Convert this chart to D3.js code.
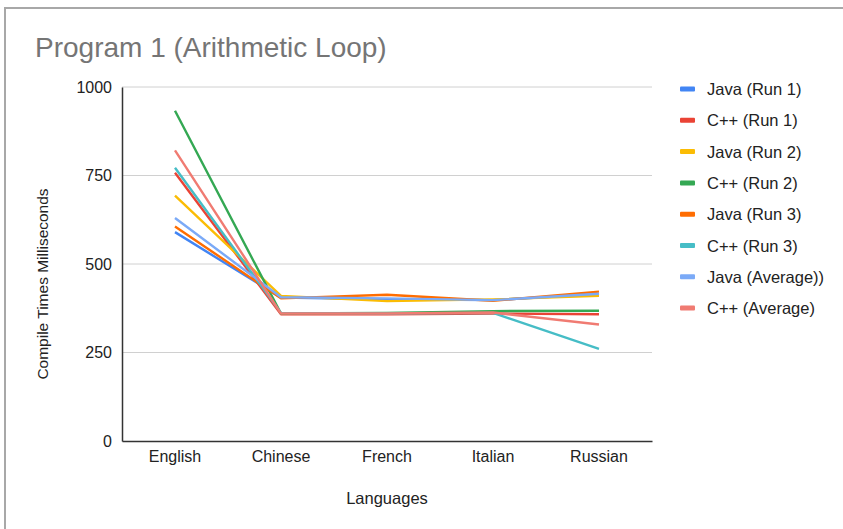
<!DOCTYPE html>
<html>
<head>
<meta charset="utf-8">
<script src="https://cdn.jsdelivr.net/npm/d3@7"></script>
<style>
  html, body { margin: 0; padding: 0; background: #fff; }
  svg { display: block; font-family: "Liberation Sans", Arial, sans-serif; }
</style>
</head>
<body>
<svg id="chart" width="843" height="529"></svg>
<script>
const categories = ["English", "Chinese", "French", "Italian", "Russian"];
const seriesNames = ["Java (Run 1)", "C++ (Run 1)", "Java (Run 2)", "C++ (Run 2)", "Java (Run 3)", "C++ (Run 3)", "Java (Average))", "C++ (Average)"];
const javaRun1 = [590, 405, 400, 398, 415];
const cppRun1  = [758, 358, 358, 360, 358];
const javaRun2 = [693, 410, 395, 400, 410];
const cppRun2  = [933, 360, 362, 367, 368];
const javaRun3 = [606, 403, 413, 396, 422];
const cppRun3  = [772, 362, 360, 362, 260];
const javaAvg  = [630, 406, 403, 398, 416];
const cppAvg   = [821, 360, 360, 363, 329];
const seriesValues = [javaRun1, cppRun1, javaRun2, cppRun2, javaRun3, cppRun3, javaAvg, cppAvg];
const colors = ["#4285F4", "#EA4335", "#FBBC04", "#34A853", "#FF6D01", "#46BDC6", "#7BAAF7", "#F07B72"];
const yTicks = [0, 250, 500, 750, 1000];

const svg = d3.select("#chart");

// outer frame
svg.append("rect").attr("x", 5).attr("y", 8).attr("width", 900).attr("height", 600)
  .attr("fill", "none").attr("stroke", "#a8a8a8").attr("stroke-width", 2);

const pLeft = 122, pRight = 652, pTop = 87, pBottom = 441;

const x = d3.scaleBand().domain(categories).range([pLeft, pRight]);
const y = d3.scaleLinear().domain([0, 1000]).range([pBottom, pTop]);

// title
svg.append("text").attr("x", 35).attr("y", 57)
  .attr("font-size", 28).attr("fill", "#757575").text("Program 1 (Arithmetic Loop)");

// gridlines
svg.append("g").selectAll("line").data(yTicks.filter(d => d > 0)).join("line")
  .attr("x1", pLeft).attr("x2", pRight)
  .attr("y1", d => y(d)).attr("y2", d => y(d))
  .attr("stroke", "#d0d0d0").attr("stroke-width", 1);

// y axis
const yAxis = svg.append("g").attr("transform", `translate(${pLeft},0)`)
  .call(d3.axisLeft(y).tickValues(yTicks).tickFormat(d3.format("d")).tickSize(0).tickPadding(10));
yAxis.select(".domain").attr("stroke", "#333").attr("stroke-width", 1.5);
yAxis.selectAll("text").attr("font-size", 16).attr("fill", "#222")
  .attr("font-family", "Liberation Sans, Arial, sans-serif");

// x axis
const xAxis = svg.append("g").attr("transform", `translate(0,${pBottom})`)
  .call(d3.axisBottom(x).tickSize(0).tickPadding(10));
xAxis.select(".domain").attr("stroke", "#333").attr("stroke-width", 1.5);
xAxis.selectAll("text").attr("font-size", 16).attr("fill", "#222")
  .attr("font-family", "Liberation Sans, Arial, sans-serif");

// axis titles
svg.append("text").attr("x", (pLeft + pRight) / 2).attr("y", 504)
  .attr("text-anchor", "middle").attr("font-size", 16.5).attr("fill", "#222").text("Languages");
svg.append("text").attr("transform", `translate(48,${(pTop + pBottom) / 2 + 20}) rotate(-90)`)
  .attr("text-anchor", "middle").attr("font-size", 15.5).attr("fill", "#222").text("Compile Times Milliseconds");

// lines
const line = d3.line().x((d, i) => x(categories[i]) + x.bandwidth() / 2).y(d => y(d));
svg.append("g").selectAll("path").data(seriesValues).join("path")
  .attr("d", d => line(d))
  .attr("fill", "none")
  .attr("stroke", (d, i) => colors[i])
  .attr("stroke-width", 2.4)
  .attr("stroke-linejoin", "round");

// legend
const legend = svg.append("g").selectAll("g").data(seriesNames).join("g")
  .attr("transform", (d, i) => `translate(680,${89 + i * 31.3})`);
legend.append("rect").attr("x", 0).attr("y", -2.5).attr("width", 15).attr("height", 5)
  .attr("rx", 1).attr("fill", (d, i) => colors[i]);
legend.append("text").attr("x", 27).attr("y", 6).attr("font-size", 16.5).attr("fill", "#222").text(d => d);
</script>
</body>
</html>
